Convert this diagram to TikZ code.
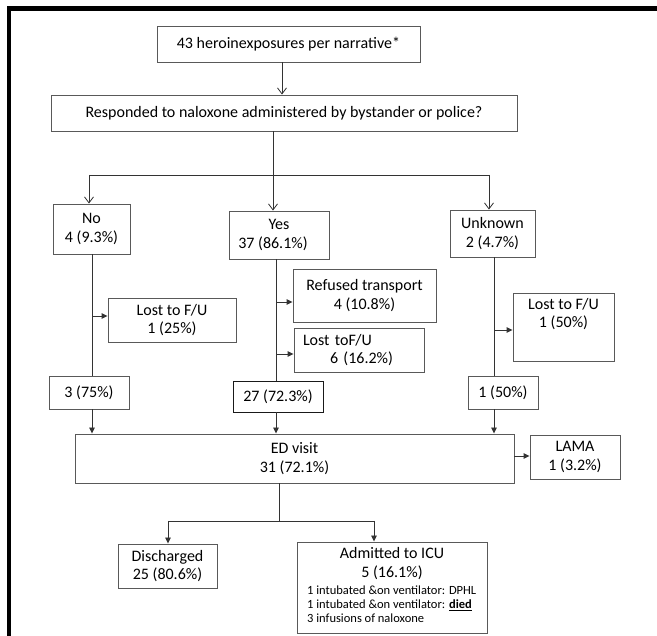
\documentclass[tikz,border=0pt]{standalone}
\usepackage{fontspec}
\setmainfont{Carlito}
\usetikzlibrary{arrows.meta}
\newcommand\FtMid{\fontsize{16}{18.5}\selectfont}
\newcommand\FtIcu{\fontsize{16}{19}\selectfont}
\newcommand\FtSmall{\fontsize{12.5}{14.2}\selectfont}
\tikzset{
  bx/.style={draw=black!65, line width=0.9pt, inner sep=0pt, align=center, font=\FtMid},
  ln/.style={draw=black!80, line width=0.9pt},
  oarr/.style={ln, -{Straight Barb[length=6pt,width=9pt,line width=0.8pt]}},
  farr/.style={ln, -{Triangle[length=6pt,width=5.5pt]}},
}
\begin{document}
\begin{tikzpicture}[x=1pt,y=-1pt]
\fill[white] (0,0) rectangle (657,636);
\useasboundingbox (0,0) rectangle (657,636);
\draw[line width=4.5pt, black, line join=miter] (9,636) -- (9,8.5) -- (657,8.5);

% boxes
\node[bx, minimum width=263, minimum height=36] (b1) at (288.5,44) {43 heroinexposures per narrative*};
\node[bx, minimum width=466, minimum height=36] (b2) at (284,113) {Responded to naloxone administered by bystander or police?};
\node[bx, minimum width=77, minimum height=50] (no) at (91.5,229) {No\\4 (9.3\%)};
\node[bx, minimum width=100, minimum height=48] (yes) at (279,235) {Yes\\37 (86.1\%)\hspace{12pt}\mbox{}};
\node[bx, minimum width=85, minimum height=47] (unk) at (492.5,233.5) {Unknown\\2 (4.7\%)};
\node[bx, minimum width=128, minimum height=44] (lostL) at (172,320) {Lost to F/U\\1 (25\%)};
\node[bx, minimum width=143, minimum height=53] (ref) at (364.5,295.5) {Refused transport\\4 (10.8\%)};
\node[bx, minimum width=130, minimum height=44, text width=112, align=left] (lostM) at (359,350) {Lost toF/U\\\hspace*{27pt}6 (16.2\%)};
\node[bx, minimum width=101, minimum height=68] (lostR) at (563.5,327) {};
\node[font=\FtMid, align=center, anchor=north, inner sep=0pt] (lostRt) at (563.5,298) {Lost to F/U\\1 (50\%)};
\node[bx, minimum width=80, minimum height=33] (n3) at (89,392.5) {3 (75\%)};
\node[bx, draw=black!90, minimum width=90, minimum height=31] (n27) at (278,396.5) {27 (72.3\%)};
\node[bx, minimum width=70, minimum height=33] (n1) at (503,392.5) {1 (50\%)};
\node[bx, minimum width=439, minimum height=49] (ed) at (294.5,458.5) {ED visit\\31 (72.1\%)};
\node[bx, minimum width=90, minimum height=44] (lama) at (575,457) {LAMA\\1 (3.2\%)};
\node[bx, minimum width=99, minimum height=44] (dis) at (167.5,566) {Discharged\\25 (80.6\%)};
\node[bx, minimum width=190, minimum height=91] (icu) at (392,587.5) {};
\node[font=\FtIcu, align=center, anchor=north, inner sep=0pt] (icut) at (392,547) {Admitted to ICU\\5 (16.1\%)};
\node[font=\FtSmall, align=left, anchor=north west, inner sep=0pt] (icus) at (307,585.5) {1 intubated \&on ventilator: DPHL\\1 intubated \&on ventilator: \textbf{\underline{died}}\\3 infusions of naloxone};

% top connectors
\coordinate (cA) at (282,0);
\draw[oarr] (b1.south -| cA) -- (b2.north -| cA);
\coordinate (cB) at (273,0);
\draw[oarr] (b2.south -| cB) -- (yes.north -| cB);
\coordinate (sL) at (89,175);
\coordinate (sR) at (489,175);
\draw[ln] (sL) -- (sR);
\draw[oarr] (sL) -- (sL |- no.north);
\draw[oarr] (sR) -- (sR |- unk.north);

% No branch
\coordinate (xN) at (92,0);
\draw[ln] (no.south -| xN) -- (n3.north -| xN);
\coordinate (jN) at (92,316);
\draw[farr] (jN) -- (jN -| lostL.west);
\draw[farr] (n3.south -| xN) -- (ed.north -| xN);

% Yes branch
\coordinate (xY) at (276,0);
\draw[ln] (yes.south -| xY) -- (n27.north -| xY);
\coordinate (jY1) at (276,302);
\draw[farr] (jY1) -- (jY1 -| ref.west);
\coordinate (jY2) at (276,354);
\draw[farr] (jY2) -- (jY2 -| lostM.west);
\draw[farr] (n27.south -| xY) -- (ed.north -| xY);

% Unknown branch
\coordinate (xU) at (494,0);
\draw[ln] (unk.south -| xU) -- (n1.north -| xU);
\coordinate (jU) at (494,330);
\draw[farr] (jU) -- (jU -| lostR.west);
\draw[farr] (n1.south -| xU) -- (ed.north -| xU);

% ED outputs
\coordinate (yL) at (0,456);
\draw[farr] (ed.east |- yL) -- (lama.west |- yL);
\coordinate (sD) at (279,521);
\draw[ln] (ed.south -| sD) -- (sD);
\coordinate (dL) at (168,521);
\coordinate (dR) at (374,521);
\draw[ln] (dL) -- (dR);
\draw[farr] (dL) -- (dL |- dis.north);
\draw[farr] (dR) -- (dR |- icu.north);
\end{tikzpicture}
\end{document}
